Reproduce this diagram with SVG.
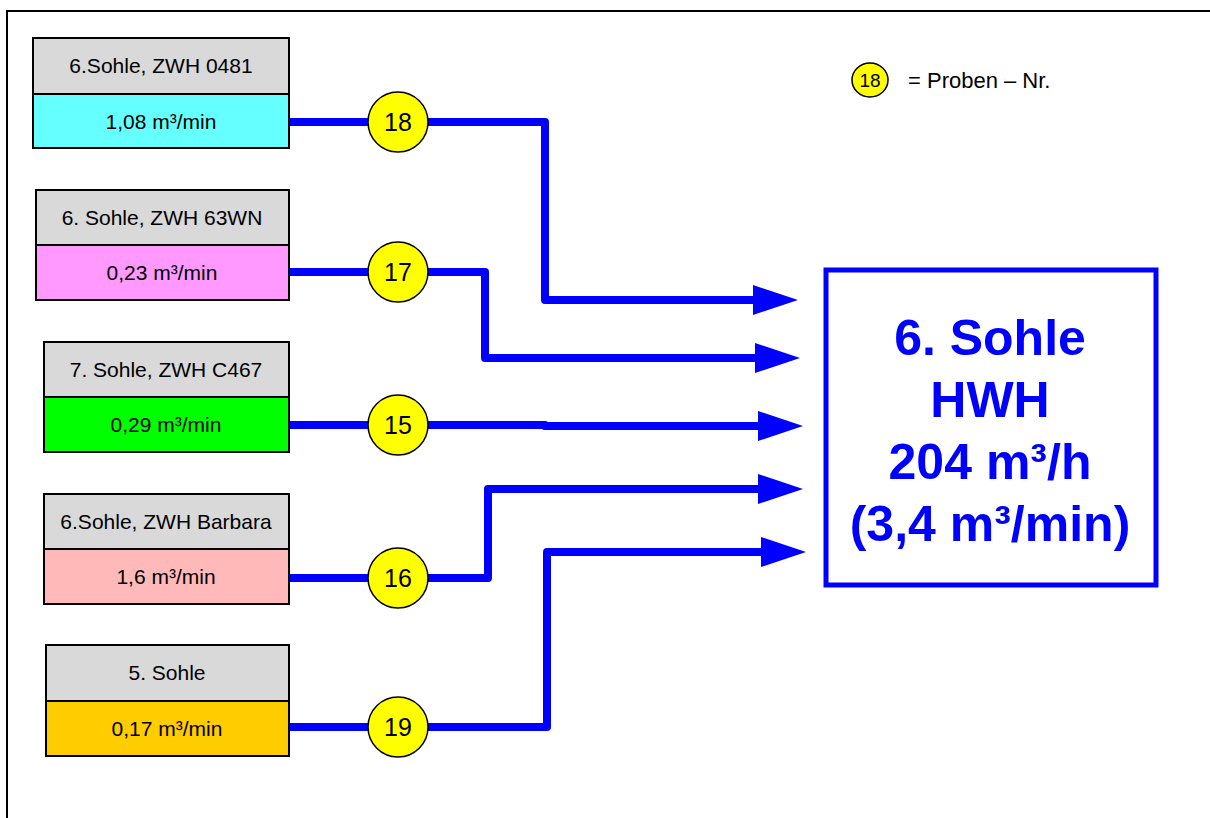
<svg xmlns="http://www.w3.org/2000/svg" width="1210" height="818" viewBox="0 0 1210 818">
<style>
.lbl{font-family:"Liberation Sans",Arial,sans-serif;font-size:21px;fill:#000;text-anchor:middle}
.num{font-family:"Liberation Sans",Arial,sans-serif;font-size:25px;fill:#000;text-anchor:middle}
.box{stroke:#000;stroke-width:2}
.circ{fill:#ffff00;stroke:#000;stroke-width:1.5}
.flow{fill:none;stroke:#0000ff;stroke-width:8;stroke-linejoin:round;marker-end:url(#ah)}
.big{font-family:"Liberation Sans",Arial,sans-serif;font-size:50px;font-weight:bold;fill:#0000ff;text-anchor:middle}
</style>
<defs>
<marker id="ah" viewBox="0 0 45 30" refX="0" refY="15" markerWidth="45" markerHeight="30" markerUnits="userSpaceOnUse" orient="auto">
<polygon points="0,0 45,15 0,30" fill="#0000ff"/>
</marker>
</defs>
<rect width="1210" height="818" fill="#fff"/>
<path d="M7,818 V11 H1210" fill="none" stroke="#000" stroke-width="2"/>

<g id="connectors">
<path class="flow" d="M289,122 H545 V300 H753"/>
<path class="flow" d="M289,272 H485 V358 H755"/>
<path class="flow" d="M289,425 H545 V426 H758"/>
<path class="flow" d="M289,578 H488 V489 H758"/>
<path class="flow" d="M289,727 H547 V552 H761"/>
</g>

<g id="src1">
<rect class="box" x="33" y="38" width="256" height="56" fill="#d9d9d9"/>
<rect class="box" x="33" y="94" width="256" height="54" fill="#66ffff"/>
<text class="lbl" x="161" y="73">6.Sohle, ZWH 0481</text>
<text class="lbl" x="161" y="129">1,08 m³/min</text>
</g>
<g id="src2">
<rect class="box" x="36" y="190" width="253" height="55" fill="#d9d9d9"/>
<rect class="box" x="36" y="245" width="253" height="55" fill="#ff99ff"/>
<text class="lbl" x="162" y="225">6. Sohle, ZWH 63WN</text>
<text class="lbl" x="162" y="280">0,23 m³/min</text>
</g>
<g id="src3">
<rect class="box" x="44" y="342" width="245" height="55" fill="#d9d9d9"/>
<rect class="box" x="44" y="397" width="245" height="55" fill="#00ff00"/>
<text class="lbl" x="166" y="377">7. Sohle, ZWH C467</text>
<text class="lbl" x="166" y="432">0,29 m³/min</text>
</g>
<g id="src4">
<rect class="box" x="44" y="494" width="245" height="55" fill="#d9d9d9"/>
<rect class="box" x="44" y="549" width="245" height="55" fill="#ffb9b9"/>
<text class="lbl" x="166" y="529">6.Sohle, ZWH Barbara</text>
<text class="lbl" x="166" y="584">1,6 m³/min</text>
</g>
<g id="src5">
<rect class="box" x="46" y="645" width="243" height="56" fill="#d9d9d9"/>
<rect class="box" x="46" y="701" width="243" height="55" fill="#ffcc00"/>
<text class="lbl" x="167" y="680">5. Sohle</text>
<text class="lbl" x="167" y="736">0,17 m³/min</text>
</g>

<g id="p18"><circle class="circ" cx="398" cy="122" r="30"/><text class="num" x="398" y="131">18</text></g>
<g id="p17"><circle class="circ" cx="398" cy="272" r="30"/><text class="num" x="398" y="281">17</text></g>
<g id="p15"><circle class="circ" cx="398" cy="425" r="30"/><text class="num" x="398" y="434">15</text></g>
<g id="p16"><circle class="circ" cx="398" cy="578" r="30"/><text class="num" x="398" y="587">16</text></g>
<g id="p19"><circle class="circ" cx="398" cy="727" r="30"/><text class="num" x="398" y="736">19</text></g>

<g id="target">
<rect x="826" y="270" width="330" height="315" fill="#fff" stroke="#0000ff" stroke-width="5"/>
<text class="big" x="990" y="355">6. Sohle</text>
<text class="big" x="990" y="417">HWH</text>
<text class="big" x="990" y="479">204 m³/h</text>
<text class="big" x="990" y="541">(3,4 m³/min)</text>
</g>

<g id="legend">
<ellipse class="circ" cx="870" cy="80" rx="18" ry="17"/>
<text x="870" y="87" font-family="'Liberation Sans',Arial,sans-serif" font-size="19" text-anchor="middle">18</text>
<text x="908" y="88" font-family="'Liberation Sans',Arial,sans-serif" font-size="22">= Proben – Nr.</text>
</g>
</svg>
